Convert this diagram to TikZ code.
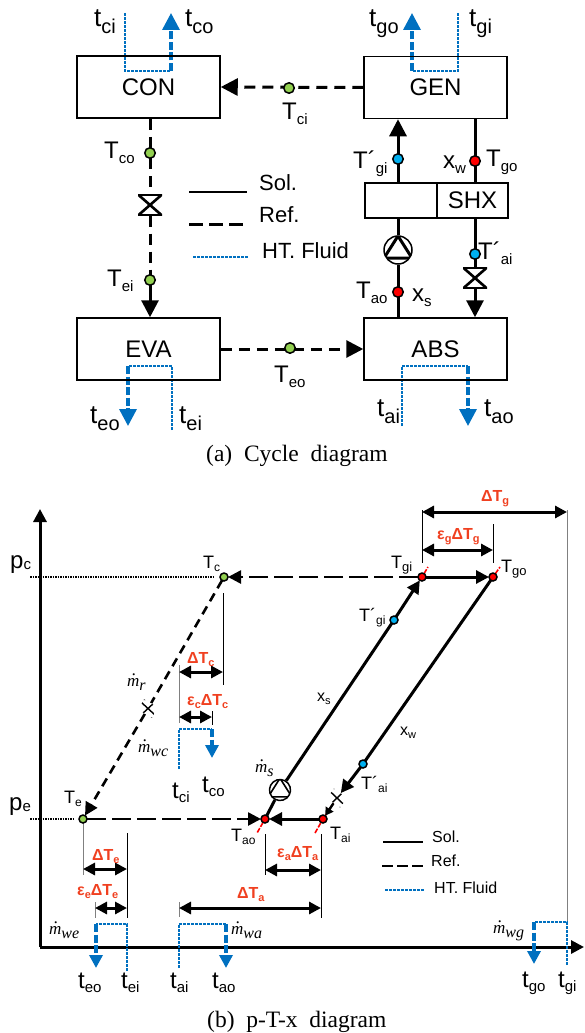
\documentclass[tikz,border=0pt]{standalone}
\usepackage{fontspec}
\setmainfont{Liberation Sans}
\newfontfamily\capfont{Liberation Serif}
\usetikzlibrary{arrows.meta,backgrounds}
\definecolor{htblue}{HTML}{0070C0}
\definecolor{dtred}{HTML}{F04020}
\definecolor{dotgreen}{HTML}{92D050}
\definecolor{dotblue}{HTML}{00B0F0}
\newcommand{\lsub}[3]{\raisebox{-#3pt}{\fontsize{#2}{#2}\selectfont #1}}
\newcommand{\mflow}[1]{{\capfont\itshape\fontsize{17}{17}\selectfont\makebox[0pt][l]{\hspace{5pt}\raisebox{11pt}{.}}m\lsub{#1}{16}{4}}}
\tikzset{
  box/.style={draw,line width=1.5pt,inner sep=0,minimum width=143pt,minimum height=62pt,font=\fontsize{24}{24}\selectfont},
  shxbox/.style={draw,line width=1.5pt,inner sep=0,minimum height=35pt,font=\fontsize{24}{24}\selectfont},
  lab/.style={anchor=base west,inner sep=0,font=\fontsize{#1}{#1}\selectfont},
  dtlab/.style={anchor=base west,inner sep=0,text=dtred,font=\fontsize{16}{16}\selectfont\bfseries},
  captionlab/.style={anchor=base west,inner sep=0,font=\capfont\fontsize{23.5}{24}\selectfont},
  dot/.style={circle,draw,line width=1.5pt,inner sep=0,minimum size=#1,outer sep=0},
  valve/.style n args={3}{inner sep=0,minimum width=#1,minimum height=#2,fill=white,path picture={
    \draw[line width=#3] (path picture bounding box.north west) -- (path picture bounding box.north east)
      -- (path picture bounding box.south west) -- (path picture bounding box.south east)
      -- cycle;}},
  pump/.style 2 args={circle,draw,inner sep=0,minimum size=#1,fill=white,line width=1.5pt,path picture={
    \draw[line width=#2] (path picture bounding box.north) -- (path picture bounding box.210)
      -- (path picture bounding box.330) -- cycle;}},
  sol/.style={line width=3pt},
  ref/.style={line width=3pt,dash pattern=on 11pt off 7pt},
  refh/.style={line width=2.6pt,dash pattern=on 19pt off 6pt},
  refd/.style={line width=2.6pt,dash pattern=on 9pt off 6pt},
  pline/.style={line width=2pt,dash pattern=on 1.5pt off 1pt},
  htthin/.style={draw=htblue,line width=2.2pt,dash pattern=on 3pt off 1pt},
  htthick/.style={draw=htblue,line width=3.4pt,dash pattern=on 8pt off 2.5pt},
  bighead/.style={-{Triangle[length=17pt,width=17pt]}},
  head/.style={-{Triangle[length=13pt,width=13pt]}},
  twohead/.style={{Triangle[length=12pt,width=12pt]}-{Triangle[length=12pt,width=12pt]},line width=3pt},
  guide/.style={line width=1pt},
  greyguide/.style={line width=1pt,draw=gray},
  redguide/.style={draw=red,line width=1.6pt,dash pattern=on 5pt off 1.5pt}
}
\begin{document}
\begin{tikzpicture}[x=1pt,y=-1pt]
  \useasboundingbox (0,0) rectangle (584,1033);

  \node[box] at (148.5,87) (con) {CON};
  \node[box] at (435.5,87.5) (gen) {GEN};
  \node[box] at (148.5,349) (eva) {EVA};
  \node[box] at (435.5,349) (abs) {ABS};
  \node[shxbox,minimum width=72pt] at (401,200.5) (shxl) {};
  \node[shxbox,minimum width=71pt] at (472.5,200.5) (shxr) {SHX};

  \node[dot=10.5pt,fill=dotgreen] at (289,88) (tcidot) {};
  \node[dot=10.5pt,fill=dotgreen] at (150,153) (tcodot) {};
  \node[dot=10.5pt,fill=dotgreen] at (150,280) (teidot) {};
  \node[dot=10.5pt,fill=dotgreen] at (290,348) (teodot) {};
  \node[dot=10.5pt,fill=dotblue] at (398,159) (tgpdot) {};
  \node[dot=10.5pt,fill=red] at (475,161) (tgodot) {};
  \node[dot=10.5pt,fill=dotblue] at (475,254) (tapdot) {};
  \node[dot=10.5pt,fill=red] at (398,292) (taodot) {};
  \node[valve={24pt}{21pt}{2.6pt}] at (150,205) (vcon) {};
  \node[valve={24pt}{21pt}{2.6pt}] at (475,278) (vabs) {};
  \node[pump={28pt}{3pt}] at (398,250) (pumpa) {};

  \node[lab=26] at (94,27) (tci) {t\lsub{ci}{20}{7}};
  \node[lab=26] at (185,27) (tco) {t\lsub{co}{20}{7}};
  \node[lab=26] at (369,27) (tgo) {t\lsub{go}{20}{7}};
  \node[lab=26] at (469,27) (tgi) {t\lsub{gi}{20}{7}};
  \node[lab=26] at (90,423) (teo) {t\lsub{eo}{20}{7}};
  \node[lab=26] at (179,423) (tei) {t\lsub{ei}{20}{7}};
  \node[lab=26] at (377,416) (tai) {t\lsub{ai}{20}{7}};
  \node[lab=26] at (484,416) (tao) {t\lsub{ao}{20}{7}};
  \node[lab=24] at (282,119) (Tci) {T\lsub{ci}{15}{5}};
  \node[lab=24] at (104,158) (Tco) {T\lsub{co}{15}{5}};
  \node[lab=24] at (107,286) (Tei) {T\lsub{ei}{15}{5}};
  \node[lab=24] at (274,382) (Teo) {T\lsub{eo}{15}{5}};
  \node[lab=24] at (353,168) (Tgp) {T´\lsub{gi}{15}{5}};
  \node[lab=24] at (443,168) (xw) {x\lsub{w}{15}{5}};
  \node[lab=24] at (486,166) (Tgo) {T\lsub{go}{15}{5}};
  \node[lab=24] at (356,298) (Tao) {T\lsub{ao}{15}{5}};
  \node[lab=24] at (412,301) (xs) {x\lsub{s}{15}{5}};
  \node[lab=24] at (478,259) (Tap) {T´\lsub{ai}{15}{5}};

  \node[lab=22] at (259,190) (solat) {Sol.};
  \node[lab=22] at (259,222) (refat) {Ref.};
  \node[lab=22] at (262,258) (htat) {HT. Fluid};
  \coordinate (sola) at (189,192);
  \coordinate (solb) at (247,192);
  \coordinate (refa) at (189,224);
  \coordinate (refb) at (246,224);
  \coordinate (hta) at (193,257);
  \coordinate (htb) at (248,257);

  \coordinate (cia) at (125,13);
  \coordinate (cib) at (125,71);
  \coordinate (coa) at (171,71);
  \coordinate (cob) at (171,13);
  \coordinate (gia) at (458,13);
  \coordinate (gib) at (458,71);
  \coordinate (goa) at (412,71);
  \coordinate (gob) at (412,13);
  \coordinate (eia) at (172,430);
  \coordinate (eib) at (172,366);
  \coordinate (eoa) at (128,366);
  \coordinate (eob) at (128,426);
  \coordinate (aia) at (402,426);
  \coordinate (aib) at (402,366);
  \coordinate (aoa) at (468,366);
  \coordinate (aob) at (468,426);

  \node[captionlab] at (206,461) (capa) {(a)\ \ Cycle\ \ diagram};

  \node[dot=8pt,fill=dotgreen] at (224,577) (Tcb) {};
  \node[dot=8pt,fill=dotgreen] at (83,819) (Teb) {};
  \node[dot=8pt,fill=red] at (422,577) (Tgib) {};
  \node[dot=8pt,fill=red] at (493,577) (Tgob) {};
  \node[dot=8pt,fill=dotblue] at (394,620) (Tgpb) {};
  \node[dot=8pt,fill=red] at (265,819) (Taob) {};
  \node[dot=8pt,fill=red] at (323,819) (Taib) {};
  \node[dot=8pt,fill=dotblue] at (363,764) (Tapb) {};
  \node[valve={16pt}{12pt}{1.4pt},rotate=-30] at (148,708.5) (vref) {};
  \node[valve={16pt}{12pt}{1.4pt},rotate=-35] at (337,798) (vsol) {};
  \node[pump={21pt}{1.6pt},rotate=-50] at (280,790) (pumpb) {};

  \node[lab=24] at (10,568) (pc) {p\lsub{c}{15}{1}};
  \node[lab=24] at (9,810) (pe) {p\lsub{e}{15}{1}};
  \node[lab=18] at (203,568) (Tclab) {T\lsub{c}{12}{3}};
  \node[lab=18] at (64,803) (Telab) {T\lsub{e}{12}{3}};
  \node[lab=18] at (391,568) (Tgilab) {T\lsub{gi}{13}{3}};
  \node[lab=18] at (501,572) (Tgolab) {T\lsub{go}{13}{3}};
  \node[lab=18] at (359,621) (Tgplab) {T´\lsub{gi}{12}{3}};
  \node[lab=18] at (361,789) (Taplab) {T´\lsub{ai}{12}{3}};
  \node[lab=18] at (330,839) (Tailab) {T\lsub{ai}{12}{3}};
  \node[lab=18] at (231,841) (Taolab) {T\lsub{ao}{12}{3}};
  \node[lab=16] at (317,701) (xslab) {x\lsub{s}{11}{3}};
  \node[lab=16] at (400,735) (xwlab) {x\lsub{w}{11}{3}};

  \node[lab=24] at (172,798) (tcib) {t\lsub{ci}{15}{4}};
  \node[lab=24] at (202,792) (tcob) {t\lsub{co}{15}{4}};
  \node[lab=24] at (78,988) (teob) {t\lsub{eo}{15}{4}};
  \node[lab=24] at (121,988) (teib) {t\lsub{ei}{15}{4}};
  \node[lab=24] at (170,988) (taib) {t\lsub{ai}{15}{4}};
  \node[lab=24] at (212,988) (taob) {t\lsub{ao}{15}{4}};
  \begin{scope}
    \clip (500,960) rectangle (584,995);
    \node[lab=24] at (522,987) (tgob) {t\lsub{go}{15}{4}};
    \node[lab=24] at (558,987) (tgib) {t\lsub{gi}{15}{4}};
  \end{scope}

  \node[lab=16] at (127,686) (mr) {\mflow{r}};
  \node[lab=16] at (138,752) (mwc) {\mflow{wc}};
  \node[lab=16] at (255,772) (ms) {\mflow{s}};
  \node[lab=16] at (49,934) (mwe) {\mflow{we}};
  \node[lab=16] at (231,934) (mwa) {\mflow{wa}};
  \node[lab=16] at (493,933) (mwg) {\mflow{wg}};

  \node[dtlab] at (481,501) (dtg) {ΔT\lsub{g}{11}{3}};
  \node[dtlab] at (437,539) (edtg) {ε\lsub{g}{11}{3}ΔT\lsub{g}{11}{3}};
  \node[dtlab] at (187,663) (dtc) {ΔT\lsub{c}{11}{3}};
  \node[dtlab] at (187,705) (edtc) {ε\lsub{c}{11}{3}ΔT\lsub{c}{11}{3}};
  \node[dtlab] at (92,860) (dte) {ΔT\lsub{e}{11}{3}};
  \node[dtlab] at (77,895) (edte) {ε\lsub{e}{11}{3}ΔT\lsub{e}{11}{3}};
  \node[dtlab] at (237,898) (dta) {ΔT\lsub{a}{11}{3}};
  \node[dtlab] at (277,857) (edta) {ε\lsub{a}{11}{3}ΔT\lsub{a}{11}{3}};

  \node[lab=16] at (432,842) (solbt) {Sol.};
  \node[lab=16] at (431,866) (refbt) {Ref.};
  \node[lab=16] at (434,893) (htbt) {HT. Fluid};
  \coordinate (solc) at (383,842);
  \coordinate (sold) at (423,842);
  \coordinate (refc) at (382,866);
  \coordinate (refd) at (423,866);
  \coordinate (htc) at (385,890);
  \coordinate (htd) at (425,890);

  \coordinate (orig) at (40,947);
  \coordinate (ytop) at (40,509);
  \coordinate (xend) at (584,947);
  \coordinate (pca) at (30,577);
  \coordinate (pcb) at (213,577);
  \coordinate (pea) at (30,819);
  \coordinate (peb) at (73,819);

  \coordinate (rgi) at (428,567);
  \coordinate (rgo) at (500,567);
  \coordinate (rao) at (257,833);
  \coordinate (rai) at (315,833);

  \coordinate (ga) at (422,510);
  \coordinate (gb) at (422,563);
  \coordinate (gc) at (493,524);
  \coordinate (gd) at (493,563);
  \coordinate (ge) at (567,510);
  \coordinate (gf) at (567,922);
  \coordinate (dga) at (422,512);
  \coordinate (dgb) at (567,512);
  \coordinate (dgc) at (422,550);
  \coordinate (dgd) at (493,550);

  \coordinate (ca) at (223,593);
  \coordinate (cb) at (223,685);
  \coordinate (cc) at (179,665);
  \coordinate (cd) at (179,723);
  \coordinate (ce) at (212,711);
  \coordinate (cf) at (212,725);
  \coordinate (dca) at (179,672);
  \coordinate (dcb) at (223,672);
  \coordinate (dcc) at (179,717);
  \coordinate (dcd) at (212,717);

  \coordinate (ea) at (83,823);
  \coordinate (eb) at (83,875);
  \coordinate (ec) at (127,833);
  \coordinate (ed) at (127,918);
  \coordinate (ee) at (95,902);
  \coordinate (ef) at (95,918);
  \coordinate (dea) at (83,869);
  \coordinate (deb) at (127,869);
  \coordinate (dec) at (95,908);
  \coordinate (ded) at (127,908);

  \coordinate (aa) at (265,834);
  \coordinate (ab) at (265,875);
  \coordinate (ac) at (321,834);
  \coordinate (ad) at (321,918);
  \coordinate (ae) at (179,902);
  \coordinate (af) at (179,917);
  \coordinate (daa) at (265,870);
  \coordinate (dab) at (321,870);
  \coordinate (dac) at (179,908);
  \coordinate (dad) at (321,908);

  \coordinate (cic) at (179,769);
  \coordinate (cid) at (179,729);
  \coordinate (coc) at (212,729);
  \coordinate (cod) at (212,758);
  \coordinate (eic) at (127,971);
  \coordinate (eid) at (127,924);
  \coordinate (eoc) at (96,924);
  \coordinate (eod) at (96,968);
  \coordinate (aic) at (179,968);
  \coordinate (aid) at (179,924);
  \coordinate (aoc) at (226,924);
  \coordinate (aod) at (226,968);
  \coordinate (gic) at (567,965);
  \coordinate (gid) at (567,922);
  \coordinate (goc) at (534,922);
  \coordinate (god) at (534,964);

  \node[captionlab] at (207,1027) (capb) {(b)\ \ p-T-x\ \ diagram};

  \begin{scope}[on background layer]
    \draw[ref,bighead] (gen.west) -- (con.east);
    \draw[ref,bighead] (eva.east) -- (abs.west);
    \draw[ref] (tcodot|-con.south) -- (tcodot);
    \draw[ref] (tcodot) -- (vcon);
    \draw[ref] (vcon) -- (teidot);
    \draw[sol,bighead] (teidot) -- (teidot|-eva.north);
    \draw[sol,bighead] (tgpdot) -- (tgpdot|-gen.south);
    \draw[sol] (tgpdot|-shxl.north) -- (tgpdot);
    \draw[sol] (tgodot|-gen.south) -- (tgodot);
    \draw[sol] (tgodot) -- (tgodot|-shxr.north);
    \draw[sol] (pumpa) -- (tgpdot|-shxl.south);
    \draw[sol] (taodot) -- (pumpa);
    \draw[sol] (taodot|-abs.north) -- (taodot);
    \draw[sol] (tapdot|-shxr.south) -- (tapdot);
    \draw[sol] (tapdot) -- (vabs);
    \draw[sol,bighead] (vabs) -- (vabs|-abs.north);

    \draw[line width=1.8pt] (sola) -- (solb);
    \draw[line width=3pt,dash pattern=on 14pt off 6pt] (refa) -- (refb);
    \draw[htthin] (hta) -- (htb);
    \draw[line width=1.2pt] (solc) -- (sold);
    \draw[line width=2.4pt,dash pattern=on 11pt off 4pt] (refc) -- (refd);
    \draw[htthin] (htc) -- (htd);

    \draw[htthin] (cia) -- (cib) -- (coa);
    \draw[htthick,bighead] (coa) -- (cob);
    \draw[htthin] (gia) -- (gib) -- (goa);
    \draw[htthick,bighead] (goa) -- (gob);
    \draw[htthin] (eia) -- (eib) -- (eoa);
    \draw[htthick,bighead] (eoa) -- (eob);
    \draw[htthin] (aia) -- (aib) -- (aoa);
    \draw[htthick,bighead] (aoa) -- (aob);

    \draw[sol,head] (orig) -- (ytop);
    \draw[sol,head] (orig) -- (xend);
    \draw[pline] (pca) -- (pcb);
    \draw[pline] (pea) -- (peb);

    \draw[redguide] (Tgib) -- (rgi);
    \draw[redguide] (Tgob) -- (rgo);
    \draw[redguide] (Taob) -- (rao);
    \draw[redguide] (rai) -- (Taib);
    \draw[redguide] (Taib) -- (vsol);

    \draw[refh,head] (Tgib) -- (Tcb);
    \draw[refd] (Tcb) -- (vref);
    \draw[refd,head] (vref) -- (Teb);
    \draw[refh,head] (Teb) -- (Taob);
    \draw[sol,head] (Taib) -- (Taob);
    \draw[sol,head] (Tgib) -- (Tgob);
    \draw[sol] (Taob) -- (pumpb);
    \draw[sol] (pumpb) -- (Tgpb);
    \draw[sol,head] (Tgpb) -- (Tgib);
    \draw[sol] (Tgob) -- (Tapb);
    \draw[sol,head] (Tapb) -- (vsol);
    \draw[line width=2.4pt,-{Triangle[length=8pt,width=9pt]}] (vsol) -- (Taib);

    \draw[guide] (ga) -- (gb);
    \draw[guide] (gc) -- (gd);
    \draw[greyguide] (ge) -- (gf);
    \draw[guide] (ca) -- (cb);
    \draw[greyguide] (cc) -- (cd);
    \draw[guide] (ce) -- (cf);
    \draw[greyguide] (ea) -- (eb);
    \draw[guide] (ec) -- (ed);
    \draw[greyguide] (ee) -- (ef);
    \draw[guide] (aa) -- (ab);
    \draw[guide] (ac) -- (ad);
    \draw[greyguide] (ae) -- (af);
    \draw[twohead] (dga) -- (dgb);
    \draw[twohead] (dgc) -- (dgd);
    \draw[twohead] (dca) -- (dcb);
    \draw[twohead] (dcc) -- (dcd);
    \draw[twohead] (dea) -- (deb);
    \draw[twohead] (dec) -- (ded);
    \draw[twohead] (daa) -- (dab);
    \draw[twohead] (dac) -- (dad);

    \draw[htthin] (cic) -- (cid) -- (coc);
    \draw[htthick,head] (coc) -- (cod);
    \draw[htthin] (eic) -- (eid) -- (eoc);
    \draw[htthick,head] (eoc) -- (eod);
    \draw[htthin] (aic) -- (aid) -- (aoc);
    \draw[htthick,head] (aoc) -- (aod);
    \draw[htthin] (gic) -- (gid) -- (goc);
    \draw[htthick,head] (goc) -- (god);
  \end{scope}
\end{tikzpicture}
\end{document}
